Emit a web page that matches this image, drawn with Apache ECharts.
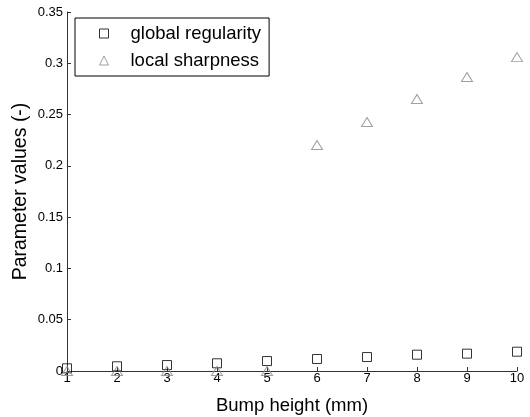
<!DOCTYPE html>
<html>
<head>
<meta charset="utf-8">
<script src="https://cdn.jsdelivr.net/npm/echarts@6/dist/echarts.min.js"></script>
<style>html,body{margin:0;padding:0;background:#fff;}#c{width:530px;height:417px;}</style>
</head>
<body>
<div id="c"></div>
<script>
var bumpHeights = [1, 2, 3, 4, 5, 6, 7, 8, 9, 10];
var globalRegularity = [0.0026, 0.0046, 0.0058, 0.0075, 0.0097, 0.0117, 0.0136, 0.0159, 0.0169, 0.0188];
var localSharpness = [0, 0, 0, 0, 0, 0.2203, 0.2428, 0.2652, 0.2866, 0.306];
var yTicks = [0, 0.05, 0.1, 0.15, 0.2, 0.25, 0.3, 0.35];

function pairs(xs, ys) { return xs.map(function (x, i) { return [x, ys[i]]; }); }

var font = 'Liberation Sans, Arial, sans-serif';
var chart = echarts.init(document.getElementById('c'), null, { renderer: 'canvas' });
chart.setOption({
  animation: false,
  backgroundColor: '#fff',
  grid: { left: 67, right: 13, top: 12, bottom: 46, containLabel: false, outerBoundsMode: 'none' },
  legend: {
    orient: 'vertical',
    left: 75, top: 18,
    padding: [6, 8, 6, 24],
    itemGap: 8,
    itemWidth: 9, itemHeight: 9,
    itemStyle: { borderWidth: 1 },
    borderColor: '#000', borderWidth: 1,
    backgroundColor: '#fff',
    textStyle: { fontFamily: font, fontSize: 18.5, color: '#000', padding: [0, 0, 0, 17] },
    data: ['global regularity', 'local sharpness']
  },
  xAxis: {
    type: 'value', min: 1, max: 10, interval: 1,
    name: 'Bump height (mm)', nameLocation: 'middle', nameGap: 25, nameMoveOverlap: false,
    nameTextStyle: { fontFamily: font, fontSize: 18.5, color: '#000' },
    axisLine: { show: true, lineStyle: { color: '#333', width: 1 } },
    axisTick: { show: true, inside: true, length: 4, lineStyle: { color: '#333' } },
    axisLabel: { fontFamily: font, fontSize: 13, color: '#000', margin: 1 },
    splitLine: { show: false }
  },
  yAxis: {
    type: 'value', min: yTicks[0], max: yTicks[yTicks.length - 1], interval: 0.05,
    name: 'Parameter values (-)', nameLocation: 'middle', nameGap: 36, nameRotate: 90, nameMoveOverlap: false,
    nameTextStyle: { fontFamily: font, fontSize: 19.5, color: '#000' },
    axisLine: { show: true, lineStyle: { color: '#333', width: 1 } },
    axisTick: { show: true, inside: true, length: 4, lineStyle: { color: '#333' } },
    axisLabel: { fontFamily: font, fontSize: 13, color: '#000', margin: 4 },
    splitLine: { show: false }
  },
  series: [
    {
      name: 'global regularity', type: 'scatter', clip: false,
      symbol: 'rect', symbolSize: 9,
      itemStyle: { color: 'rgba(0,0,0,0)', borderColor: '#000', borderWidth: 1 },
      data: pairs(bumpHeights, globalRegularity)
    },
    {
      name: 'local sharpness', type: 'scatter', clip: false,
      symbol: 'triangle', symbolSize: [11, 9],
      itemStyle: { color: 'rgba(0,0,0,0)', borderColor: '#888', borderWidth: 1 },
      data: pairs(bumpHeights, localSharpness)
    }
  ]
});
</script>
</body>
</html>
